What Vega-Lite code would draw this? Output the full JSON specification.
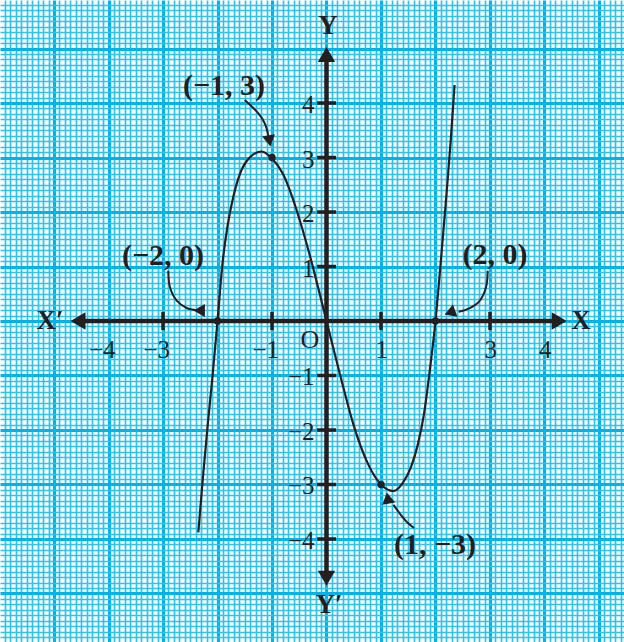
{
  "$schema": "https://vega.github.io/schema/vega-lite/v6.json",
  "width": 624,
  "height": 642,
  "autosize": {"type": "none"},
  "padding": 0,
  "background": "white",
  "view": {"stroke": null},
  "datasets": {
    "curve": [
      {"x": -2.352, "y": -3.877}, {"x": -2.27, "y": -2.9}, {"x": -2.185, "y": -1.96}, {"x": -2.09, "y": -1.0},
      {"x": -2.0, "y": 0}, {"x": -1.91, "y": 1.04}, {"x": -1.82, "y": 1.72}, {"x": -1.71, "y": 2.28},
      {"x": -1.56, "y": 2.77}, {"x": -1.4, "y": 3.01}, {"x": -1.19, "y": 3.11}, {"x": -1.0, "y": 2.98},
      {"x": -0.8, "y": 2.7}, {"x": -0.62, "y": 2.25}, {"x": -0.44, "y": 1.68}, {"x": -0.26, "y": 1.03},
      {"x": -0.1, "y": 0.4}, {"x": 0, "y": 0}, {"x": 0.25, "y": -0.99}, {"x": 0.5, "y": -1.92},
      {"x": 0.77, "y": -2.64}, {"x": 1.0, "y": -3.0}, {"x": 1.23, "y": -3.12}, {"x": 1.4, "y": -2.97},
      {"x": 1.55, "y": -2.68}, {"x": 1.68, "y": -2.25}, {"x": 1.79, "y": -1.7}, {"x": 1.89, "y": -0.95},
      {"x": 2.0, "y": 0}, {"x": 2.1, "y": 1.12}, {"x": 2.2, "y": 2.3}, {"x": 2.28, "y": 3.32},
      {"x": 2.35, "y": 4.33}
    ],
    "axes": [
      {"x": -4.56, "y": 0, "x2": 4.27, "y2": 0},
      {"x": 0, "y": -4.72, "x2": 0, "y2": 4.89}
    ],
    "axisHeads": [
      {"x": -4.56, "y": 0, "end": "left"},
      {"x": 4.27, "y": 0, "end": "right"},
      {"x": 0, "y": 4.89, "end": "top"},
      {"x": 0, "y": -4.72, "end": "bottom"}
    ],
    "xticks": [
      {"x": -4, "y": 0, "label": "−4"}, {"x": -3, "y": 0, "label": "−3"}, {"x": -1, "y": 0, "label": "−1"},
      {"x": 1, "y": 0, "label": "1"}, {"x": 3, "y": 0, "label": "3"}, {"x": 4, "y": 0, "label": "4"}
    ],
    "yticks": [
      {"x": 0, "y": 4, "label": "4"}, {"x": 0, "y": 3, "label": "3"}, {"x": 0, "y": 2, "label": "2"},
      {"x": 0, "y": 1, "label": "1"}, {"x": 0, "y": -1, "label": "−1"}, {"x": 0, "y": -2, "label": "−2"},
      {"x": 0, "y": -3, "label": "−3"}, {"x": 0, "y": -4, "label": "−4"}
    ],
    "dots": [
      {"x": -2, "y": 0}, {"x": -1, "y": 3}, {"x": 1, "y": -3}, {"x": 2, "y": 0}
    ],
    "pointers": [
      {"id": "a1", "i": 0, "x": -1.501, "y": 4.055}, {"id": "a1", "i": 1, "x": -1.257, "y": 3.817},
      {"id": "a1", "i": 2, "x": -1.134, "y": 3.628}, {"id": "a1", "i": 3, "x": -1.066, "y": 3.4},
      {"id": "a2", "i": 0, "x": -2.903, "y": 0.923}, {"id": "a2", "i": 1, "x": -2.872, "y": 0.618},
      {"id": "a2", "i": 2, "x": -2.749, "y": 0.372}, {"id": "a2", "i": 3, "x": -2.565, "y": 0.239},
      {"id": "a2", "i": 4, "x": -2.38, "y": 0.198},
      {"id": "a3", "i": 0, "x": 2.958, "y": 0.923}, {"id": "a3", "i": 1, "x": 2.927, "y": 0.618},
      {"id": "a3", "i": 2, "x": 2.804, "y": 0.361}, {"id": "a3", "i": 3, "x": 2.62, "y": 0.233},
      {"id": "a3", "i": 4, "x": 2.424, "y": 0.169},
      {"id": "a4", "i": 0, "x": 1.229, "y": -3.374}, {"id": "a4", "i": 1, "x": 1.367, "y": -3.56},
      {"id": "a4", "i": 2, "x": 1.495, "y": -3.706}, {"id": "a4", "i": 3, "x": 1.606, "y": -3.798}
    ],
    "pointerHeads": [
      {"id": "a1", "x": -1.046, "y": 3.303},
      {"id": "a2", "x": -2.284, "y": 0.163},
      {"id": "a3", "x": 2.323, "y": 0.143},
      {"id": "a4", "x": 1.163, "y": -3.295}
    ],
    "notes": [
      {"x": -1.88, "y": 4.31, "label": "(−1, 3)"},
      {"x": -3.0, "y": 1.19, "label": "(−2, 0)"},
      {"x": 3.09, "y": 1.21, "label": "(2, 0)"},
      {"x": 1.99, "y": -4.11, "label": "(1, −3)"}
    ],
    "letters": [
      {"x": -5.073, "y": 0, "label": "X′"},
      {"x": 4.67, "y": 0, "label": "X"},
      {"x": 0.028, "y": 5.413, "label": "Y"},
      {"x": 0.046, "y": -5.21, "label": "Y′"}
    ],
    "origin": [
      {"x": -0.303, "y": -0.349, "label": "O"}
    ]
  },
  "encoding": {
    "x": {
      "field": "x", "type": "quantitative",
      "scale": {"domain": [-5.991, 5.459], "nice": false, "zero": false},
      "axis": {
        "title": null, "labels": false, "ticks": false, "domain": false, "grid": true, "tickCount": 115,
        "gridColor": {"condition": {"test": "abs(datum.value - round(datum.value)) < 0.001", "value": "#00B4EA"}, "value": "#2EC3EF"},
        "gridWidth": {"condition": {"test": "abs(datum.value - round(datum.value)) < 0.001", "value": 3.2}, "value": 1.7},
        "gridOpacity": 1
      }
    },
    "y": {
      "field": "y", "type": "quantitative",
      "scale": {"domain": [-5.89, 5.89], "nice": false, "zero": false},
      "axis": {
        "title": null, "labels": false, "ticks": false, "domain": false, "grid": true, "tickCount": 118,
        "gridColor": {"condition": {"test": "abs(datum.value - round(datum.value)) < 0.001", "value": "#00B4EA"}, "value": "#2EC3EF"},
        "gridWidth": {"condition": {"test": "abs(datum.value - round(datum.value)) < 0.001", "value": 3.2}, "value": 1.7},
        "gridOpacity": 1
      }
    }
  },
  "layer": [
    {
      "data": {"name": "curve"},
      "mark": {"type": "line", "interpolate": "monotone", "color": "#231F20", "strokeWidth": 2.2}
    },
    {
      "data": {"name": "axes"},
      "mark": {"type": "rule", "color": "#231F20", "strokeWidth": 4.5},
      "encoding": {"x2": {"field": "x2"}, "y2": {"field": "y2"}}
    },
    {
      "data": {"name": "axisHeads"},
      "mark": {"type": "point", "filled": true, "opacity": 1, "color": "#231F20", "size": 300},
      "encoding": {
        "shape": {"field": "end", "type": "nominal", "legend": null,
          "scale": {"domain": ["left", "right", "top", "bottom"], "range": ["triangle-left", "triangle-right", "triangle-up", "triangle-down"]}}
      }
    },
    {
      "data": {"name": "xticks"},
      "transform": [{"filter": "abs(datum.x) != 4"}],
      "mark": {"type": "tick", "orient": "vertical", "color": "#231F20", "size": 18, "thickness": 3.5, "opacity": 1}
    },
    {
      "data": {"name": "yticks"},
      "mark": {"type": "tick", "orient": "horizontal", "color": "#231F20", "size": 19, "thickness": 3.5, "opacity": 1}
    },
    {
      "data": {"name": "dots"},
      "mark": {"type": "circle", "color": "#231F20", "size": 55, "opacity": 1}
    },
    {
      "data": {"name": "pointers"},
      "mark": {"type": "line", "interpolate": "catmull-rom", "color": "#231F20", "strokeWidth": 2},
      "encoding": {"detail": {"field": "id"}, "order": {"field": "i"}}
    },
    {
      "data": {"name": "pointerHeads"},
      "mark": {"type": "point", "shape": "triangle-up", "filled": true, "opacity": 1, "color": "#231F20", "size": 170},
      "encoding": {
        "angle": {"field": "id", "type": "nominal", "legend": null,
          "scale": {"domain": ["a1", "a2", "a3", "a4"], "range": [170, 110, 255, 320]}}
      }
    },
    {
      "data": {"name": "xticks"},
      "mark": {"type": "text", "align": "right", "baseline": "middle", "dx": 7, "dy": 29, "font": "Liberation Serif", "fontSize": 25, "color": "#231F20"},
      "encoding": {"text": {"field": "label"}}
    },
    {
      "data": {"name": "yticks"},
      "mark": {"type": "text", "align": "right", "baseline": "middle", "dx": -12, "dy": 2, "font": "Liberation Serif", "fontSize": 25, "color": "#231F20"},
      "encoding": {"text": {"field": "label"}}
    },
    {
      "data": {"name": "origin"},
      "mark": {"type": "text", "align": "center", "baseline": "middle", "font": "Liberation Serif", "fontSize": 26, "color": "#231F20"},
      "encoding": {"text": {"field": "label"}}
    },
    {
      "data": {"name": "notes"},
      "mark": {"type": "text", "align": "center", "baseline": "middle", "font": "Liberation Serif", "fontSize": 30, "fontWeight": "bold", "color": "#231F20"},
      "encoding": {"text": {"field": "label"}}
    },
    {
      "data": {"name": "letters"},
      "mark": {"type": "text", "align": "center", "baseline": "middle", "font": "Liberation Serif", "fontSize": 27, "fontWeight": "bold", "color": "#231F20"},
      "encoding": {"text": {"field": "label"}}
    }
  ]
}
